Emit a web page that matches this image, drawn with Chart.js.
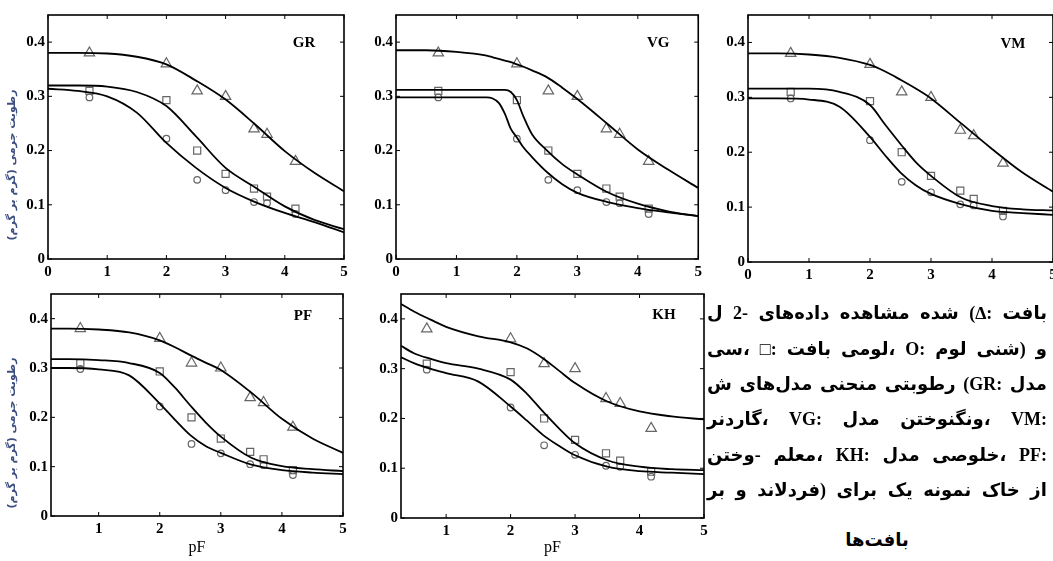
<!DOCTYPE html>
<html>
<head>
<meta charset="utf-8">
<script src="https://cdn.jsdelivr.net/npm/chart.js@4.4.0/dist/chart.umd.min.js"></script>
<style>
  body { margin: 0; background: #fff; width: 1053px; height: 561px; overflow: hidden; position: relative; }
  canvas { position: absolute; }
  .ln {
    position: absolute; left: 707px; width: 340px; height: 36px;
    display: flex; justify-content: space-between; align-items: center;
    direction: ltr; white-space: nowrap;
    font-family: "Liberation Serif", "DejaVu Sans", serif; font-weight: bold; font-size: 18px; color: #000;
  }
  .ln span { direction: ltr; unicode-bidi: isolate; }
</style>
</head>
<body>
<canvas id="gr" width="352" height="282" style="left:0;top:0"></canvas>
<canvas id="vg" width="354" height="282" style="left:352px;top:0"></canvas>
<canvas id="vm" width="360" height="282" style="left:706px;top:0"></canvas>
<canvas id="pf" width="352" height="279" style="left:0;top:282px"></canvas>
<canvas id="kh" width="360" height="279" style="left:352px;top:282px"></canvas>

<div class="ln" style="top:295px"><span>ل</span><span>2-</span><span>داده‌های</span><span>مشاهده</span><span>شده</span><span>(∆:</span><span>بافت</span></div>
<div class="ln" style="top:331px"><span>سی،</span><span>□:</span><span>بافت</span><span>لومی،</span><span>O:</span><span>لوم</span><span>شنی)</span><span>و</span></div>
<div class="ln" style="top:366px"><span>ش</span><span>مدل‌های</span><span>منحنی</span><span>رطوبتی</span><span>(GR:</span><span>مدل</span></div>
<div class="ln" style="top:401px"><span>گاردنر،</span><span>VG:</span><span>مدل</span><span>ونگنوختن،</span><span>VM:</span></div>
<div class="ln" style="top:437px"><span>وختن-</span><span>معلم،</span><span>KH:</span><span>مدل</span><span>خلوصی،</span><span>PF:</span></div>
<div class="ln" style="top:472px"><span>بر</span><span>و</span><span>فردلاند)</span><span>برای</span><span>یک</span><span>نمونه</span><span>خاک</span><span>از</span></div>
<div class="ln" style="top:522px;left:827px;width:100px;justify-content:center"><span>بافت‌ها</span></div>

<script>
'use strict';

// observed points (same samples in every panel)
const obsPF = [0.7, 2.0, 2.52, 3.0, 3.48, 3.7, 4.18];
const obsTriangle = [0.38, 0.36, 0.31, 0.30, 0.24, 0.23, 0.18];
const obsSquare = [0.31, 0.293, 0.20, 0.157, 0.13, 0.115, 0.093];
const obsCircle = [0.298, 0.222, 0.146, 0.127, 0.105, 0.103, 0.083];

// tick labels
const xTickVals = [0, 1, 2, 3, 4, 5];
const yTickVals = [0, 0.1, 0.2, 0.3, 0.4];

// fitted curves
const grX = [0, 0.5, 1, 1.5, 2, 2.5, 3, 3.5, 4, 4.5, 5];
const grTri = [0.380, 0.380, 0.379, 0.373, 0.359, 0.329, 0.294, 0.248, 0.199, 0.159, 0.125];
const grSq = [0.320, 0.320, 0.318, 0.308, 0.282, 0.226, 0.168, 0.132, 0.097, 0.072, 0.055];
const grCir = [0.314, 0.310, 0.300, 0.270, 0.214, 0.168, 0.131, 0.105, 0.085, 0.068, 0.049];

const vgX = [0, 0.5, 1, 1.5, 1.6, 1.7, 1.8, 1.9, 2.0, 2.1, 2.25, 2.5, 2.75, 3, 3.5, 4, 4.5, 5];
const vgTri = [0.385, 0.385, 0.382, 0.375, 0.372, 0.369, 0.366, 0.363, 0.359, 0.355, 0.348, 0.335, 0.316, 0.295, 0.249, 0.202, 0.165, 0.131];
const vgSq = [0.312, 0.312, 0.312, 0.312, 0.312, 0.312, 0.312, 0.308, 0.293, 0.265, 0.230, 0.200, 0.175, 0.156, 0.123, 0.102, 0.088, 0.079];
const vgCir = [0.298, 0.298, 0.298, 0.298, 0.296, 0.288, 0.268, 0.240, 0.224, 0.207, 0.188, 0.160, 0.138, 0.122, 0.105, 0.094, 0.086, 0.079];

const vmX = [0, 0.5, 1, 1.5, 2, 2.25, 2.5, 2.75, 3, 3.5, 4, 4.5, 5];
const vmTri = [0.380, 0.380, 0.378, 0.372, 0.359, 0.347, 0.332, 0.316, 0.298, 0.252, 0.206, 0.163, 0.128];
const vmSq = [0.316, 0.316, 0.316, 0.310, 0.286, 0.250, 0.215, 0.182, 0.157, 0.117, 0.102, 0.096, 0.094];
const vmCir = [0.298, 0.298, 0.296, 0.283, 0.228, 0.194, 0.163, 0.140, 0.124, 0.105, 0.093, 0.089, 0.086];

const pfX = [0.22, 0.5, 1, 1.5, 2, 2.25, 2.5, 2.75, 3, 3.5, 4, 4.5, 5];
const pfTri = [0.380, 0.380, 0.378, 0.372, 0.356, 0.342, 0.326, 0.311, 0.296, 0.250, 0.197, 0.157, 0.128];
const pfSq = [0.318, 0.318, 0.316, 0.310, 0.290, 0.260, 0.224, 0.190, 0.161, 0.118, 0.101, 0.095, 0.091];
const pfCir = [0.300, 0.300, 0.297, 0.285, 0.228, 0.195, 0.164, 0.142, 0.128, 0.104, 0.093, 0.088, 0.085];

const khX = [0.3, 0.5, 0.75, 1, 1.5, 2, 2.25, 2.5, 2.75, 3, 3.5, 4, 4.5, 5];
const khTri = [0.430, 0.415, 0.399, 0.384, 0.365, 0.353, 0.341, 0.321, 0.296, 0.271, 0.234, 0.214, 0.204, 0.198];
const khSq = [0.346, 0.331, 0.320, 0.311, 0.300, 0.278, 0.250, 0.214, 0.180, 0.150, 0.116, 0.103, 0.098, 0.096];
const khCir = [0.323, 0.311, 0.300, 0.291, 0.274, 0.224, 0.196, 0.167, 0.145, 0.126, 0.103, 0.094, 0.091, 0.088];

const yTitleText = 'رطوبت جرمی (گرم بر گرم)';
const tickFont = { family: 'Liberation Serif', weight: 'bold', size: 15 };

// Helper Functions
function toPoints(xs, ys) {
  return xs.map((x, i) => ({ x: x, y: ys[i] }));
}

function curve(xs, ys) {
  return {
    data: toPoints(xs, ys),
    showLine: true,
    pointRadius: 0,
    borderColor: '#000',
    borderWidth: 1.8,
    cubicInterpolationMode: 'monotone'
  };
}

function markers(ys, style, r) {
  return {
    data: toPoints(obsPF, ys),
    showLine: false,
    pointStyle: style,
    pointRadius: r,
    pointBackgroundColor: 'rgba(0,0,0,0)',
    pointBorderColor: '#666',
    pointBorderWidth: 1.2
  };
}

// box, inward ticks, panel name and y title
const panelDeco = {
  id: 'panelDeco',
  afterDraw(chart, args, opts) {
    let ctx = chart.ctx;
    let a = chart.chartArea;
    let xs = chart.scales.x;
    let ys = chart.scales.y;
    ctx.save();
    ctx.strokeStyle = '#000';
    ctx.lineWidth = 1;
    ctx.beginPath();
    xs.ticks.forEach(t => {
      let px = xs.getPixelForValue(t.value);
      ctx.moveTo(px, a.bottom); ctx.lineTo(px, a.bottom - 4);
      ctx.moveTo(px, a.top); ctx.lineTo(px, a.top + 4);
    });
    ys.ticks.forEach(t => {
      let py = ys.getPixelForValue(t.value);
      ctx.moveTo(a.left, py); ctx.lineTo(a.left + 4, py);
      ctx.moveTo(a.right, py); ctx.lineTo(a.right - 4, py);
    });
    ctx.stroke();
    ctx.lineWidth = 1.6;
    ctx.strokeRect(a.left, a.top, a.right - a.left, a.bottom - a.top);

    ctx.fillStyle = '#000';
    ctx.font = 'bold 15px "Liberation Serif"';
    ctx.textAlign = 'center';
    ctx.textBaseline = 'middle';
    ctx.fillText(opts.label, a.right - 40, a.top + opts.labelDy);

    if (opts.yTitle) {
      ctx.translate(12, (a.top + a.bottom) / 2 + 28);
      ctx.rotate(-Math.PI / 2);
      ctx.direction = 'rtl';
      ctx.font = 'bold 11px "DejaVu Sans"';
      ctx.fillStyle = '#3d4f80';
      ctx.fillText(yTitleText, 0, 0);
    }
    ctx.restore();
  }
};

function makePanel(id, p) {
  let canvasElem = document.getElementById(id);
  let cfg = {
    type: 'scatter',
    data: {
      datasets: [
        curve(p.x, p.tri),
        curve(p.x, p.sq),
        curve(p.x, p.cir),
        markers(obsTriangle, 'triangle', 6),
        markers(obsSquare, 'rect', 5),
        markers(obsCircle, 'circle', 3.3)
      ]
    },
    options: {
      responsive: false,
      animation: false,
      layout: { padding: { top: p.padTop, right: p.padRight, left: 0, bottom: 0 } },
      plugins: {
        legend: { display: false },
        tooltip: { enabled: false },
        panelDeco: { label: p.label, labelDy: p.labelDy, yTitle: p.yTitle }
      },
      scales: {
        x: {
          type: 'linear',
          min: p.xMin,
          max: 5,
          grid: { display: false, drawTicks: false },
          border: { display: false },
          ticks: { color: '#000', font: tickFont, padding: 4, maxRotation: 0 },
          title: {
            display: p.xTitle,
            text: 'pF',
            color: '#000',
            font: { family: 'Liberation Serif', size: 16 },
            padding: { top: 0, bottom: 4 }
          },
          afterBuildTicks: s => { s.ticks = xTickVals.filter(v => v >= p.xMin).map(v => ({ value: v })); },
          afterFit: s => { s.height = p.xH; }
        },
        y: {
          min: 0,
          max: 0.45,
          grid: { display: false, drawTicks: false },
          border: { display: false },
          ticks: { color: '#000', font: tickFont, padding: 3 },
          afterBuildTicks: s => { s.ticks = yTickVals.map(v => ({ value: v })); },
          afterFit: s => { s.width = p.yW; }
        }
      }
    },
    plugins: [panelDeco]
  };
  new Chart(canvasElem, cfg);
}

makePanel('gr', { x: grX, tri: grTri, sq: grSq, cir: grCir, label: 'GR', labelDy: 28, yTitle: true,
  xMin: 0, xTitle: false, padTop: 15, padRight: 8, yW: 48, xH: 23 });
makePanel('vg', { x: vgX, tri: vgTri, sq: vgSq, cir: vgCir, label: 'VG', labelDy: 28, yTitle: false,
  xMin: 0, xTitle: false, padTop: 15, padRight: 5, yW: 44, xH: 23 });
makePanel('vm', { x: vmX, tri: vmTri, sq: vmSq, cir: vmCir, label: 'VM', labelDy: 29, yTitle: false,
  xMin: 0, xTitle: false, padTop: 15, padRight: 13, yW: 42, xH: 20 });
makePanel('pf', { x: pfX, tri: pfTri, sq: pfSq, cir: pfCir, label: 'PF', labelDy: 22, yTitle: true,
  xMin: 0.22, xTitle: true, padTop: 9, padRight: 9, yW: 51, xH: 45 });
makePanel('kh', { x: khX, tri: khTri, sq: khSq, cir: khCir, label: 'KH', labelDy: 21, yTitle: false,
  xMin: 0.3, xTitle: true, padTop: 12, padRight: 8, yW: 49, xH: 43 });
</script>
</body>
</html>
